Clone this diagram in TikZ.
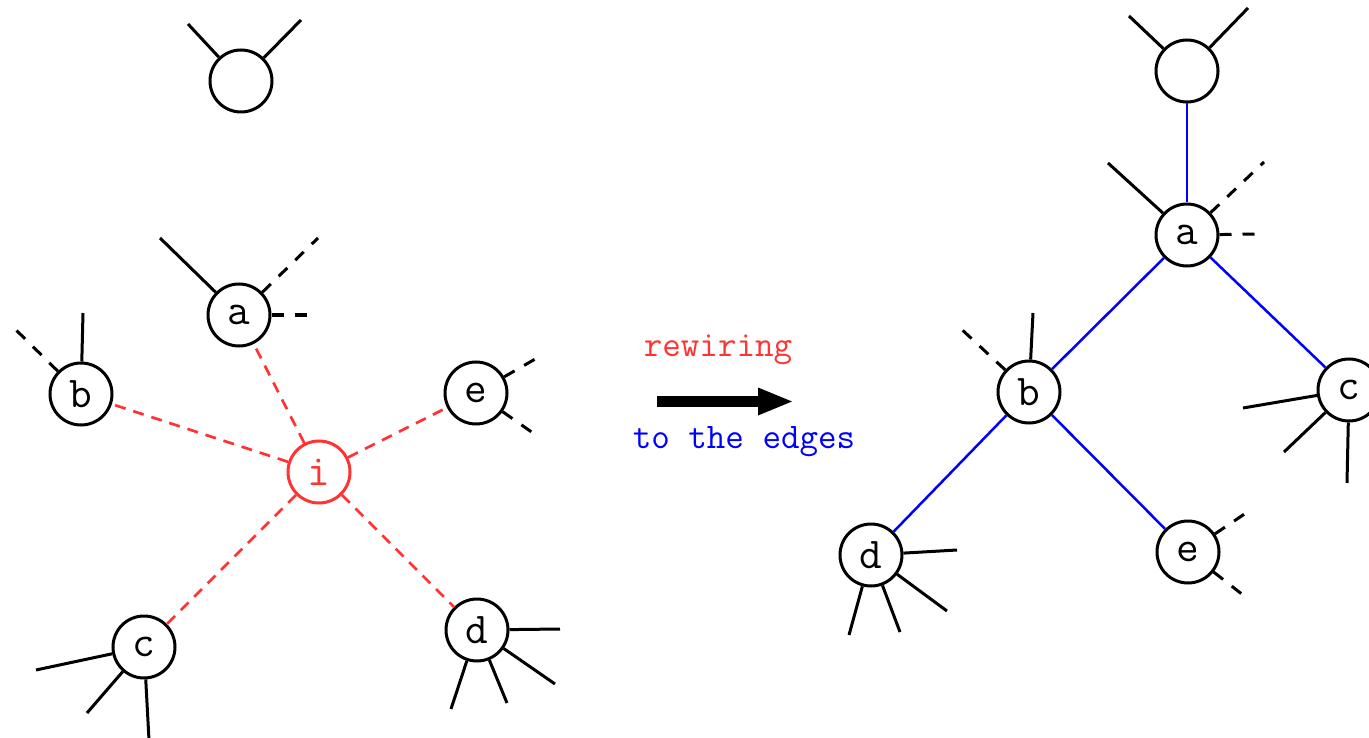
\documentclass[tikz,border=0pt]{standalone}
\usepackage{fontspec}
\usetikzlibrary{calc}
\definecolor{edgered}{RGB}{255,51,51}
\definecolor{edgeblue}{RGB}{0,0,255}
\tikzset{
  vtx/.style={circle, draw=black, line width=3pt, minimum size=62pt, inner sep=0pt,
    font=\fontsize{44}{44}\selectfont\ttfamily},
  hub/.style={vtx, draw=edgered, text=edgered},
  stub/.style={line width=3pt, black},
  dstub/.style={stub, dash pattern=on 12pt off 11pt},
  rededge/.style={line width=2.7pt, edgered, dash pattern=on 11pt off 8pt},
  blueedge/.style={line width=2.5pt, edgeblue},
  caption/.style={font=\fontsize{36}{36}\selectfont\ttfamily, inner sep=0pt}
}
\begin{document}
\begin{tikzpicture}[x=1pt, y=-1pt]
\useasboundingbox (0,0) rectangle (1369,738);

% ---------- before rewiring ----------
\node[vtx] (Lt) at (241,81) {};
\node[vtx] (La) at (239,315) {a};
\node[vtx] (Lb) at (81,394) {b};
\node[vtx] (Le) at (476,393) {e};
\node[hub] (Li) at (319,472) {i};
\node[vtx] (Lc) at (144,647) {c};
\node[vtx] (Ld) at (477,630) {d};

\coordinate (Lt1) at (188,24);  \coordinate (Lt2) at (301,20);
\coordinate (La1) at (160,238); \coordinate (La2) at (318,238); \coordinate (La3) at (309,315);
\coordinate (Lb1) at (83,313);  \coordinate (Lb2) at (12,326);
\coordinate (Le1) at (537,358); \coordinate (Le2) at (533,433);
\coordinate (Lc1) at (36,670);  \coordinate (Lc2) at (87,713);  \coordinate (Lc3) at (149,740);
\coordinate (Ld1) at (560,629); \coordinate (Ld2) at (555,684); \coordinate (Ld3) at (507,703); \coordinate (Ld4) at (451,709);

\draw[stub] (Lt) -- (Lt1);
\draw[stub] (Lt) -- (Lt2);
\draw[stub] (La) -- (La1);
\draw[dstub] (La) -- (La2);
\draw[dstub] (La) -- (La3);
\draw[stub] (Lb) -- (Lb1);
\draw[dstub] (Lb) -- (Lb2);
\draw[dstub] (Le) -- (Le1);
\draw[dstub] (Le) -- (Le2);
\draw[stub] (Lc) -- (Lc1);
\draw[stub] (Lc) -- (Lc2);
\draw[stub] (Lc) -- (Lc3);
\draw[stub] (Ld) -- (Ld1);
\draw[stub] (Ld) -- (Ld2);
\draw[stub] (Ld) -- (Ld3);
\draw[stub] (Ld) -- (Ld4);

\draw[rededge] (Li) -- (La);
\draw[rededge] (Li) -- (Lb);
\draw[rededge] (Li) -- (Le);
\draw[rededge] (Li) -- (Lc);
\draw[rededge] (Li) -- (Ld);

% ---------- transition arrow ----------
\node[caption, text=edgered, anchor=base] (rw) at (718,356) {rewiring};
\node[caption, text=edgeblue, anchor=base] (te) at (744,448) {to the edges};
\coordinate (arS) at (657,401.5);
\coordinate (arM) at (758,401.5);
\coordinate (arE) at (792,401.5);
\fill[black] ($(arS)+(0,-5.5)$) rectangle ($(arM)+(1,5.5)$);
\fill[black] ($(arM)+(0,-14)$) -- (arE) -- ($(arM)+(0,14)$) -- cycle;

% ---------- after rewiring ----------
\node[vtx] (Rt) at (1187,71) {};
\node[vtx] (Ra) at (1187,235) {a};
\node[vtx] (Rb) at (1029,392) {b};
\node[vtx] (Rc) at (1349,390) {c};
\node[vtx] (Rd) at (871,555) {d};
\node[vtx] (Re) at (1188,552) {e};

\coordinate (Rt1) at (1129,16);  \coordinate (Rt2) at (1248,8);
\coordinate (Ra1) at (1108,163); \coordinate (Ra2) at (1264,162); \coordinate (Ra3) at (1260,234);
\coordinate (Rb1) at (1033,313); \coordinate (Rb2) at (958,326);
\coordinate (Rc1) at (1243,408); \coordinate (Rc2) at (1284,452); \coordinate (Rc3) at (1347,483);
\coordinate (Rd1) at (957,550);  \coordinate (Rd2) at (947,611);  \coordinate (Rd3) at (900,632); \coordinate (Rd4) at (849,635);
\coordinate (Re1) at (1246,513); \coordinate (Re2) at (1243,595);

\draw[stub] (Rt) -- (Rt1);
\draw[stub] (Rt) -- (Rt2);
\draw[stub] (Ra) -- (Ra1);
\draw[dstub] (Ra) -- (Ra2);
\draw[dstub] (Ra) -- (Ra3);
\draw[stub] (Rb) -- (Rb1);
\draw[dstub] (Rb) -- (Rb2);
\draw[stub] (Rc) -- (Rc1);
\draw[stub] (Rc) -- (Rc2);
\draw[stub] (Rc) -- (Rc3);
\draw[stub] (Rd) -- (Rd1);
\draw[stub] (Rd) -- (Rd2);
\draw[stub] (Rd) -- (Rd3);
\draw[stub] (Rd) -- (Rd4);
\draw[dstub] (Re) -- (Re1);
\draw[dstub] (Re) -- (Re2);

\draw[blueedge] (Rt) -- (Ra);
\draw[blueedge] (Ra) -- (Rb);
\draw[blueedge] (Ra) -- (Rc);
\draw[blueedge] (Rb) -- (Rd);
\draw[blueedge] (Rb) -- (Re);
\end{tikzpicture}
\end{document}
